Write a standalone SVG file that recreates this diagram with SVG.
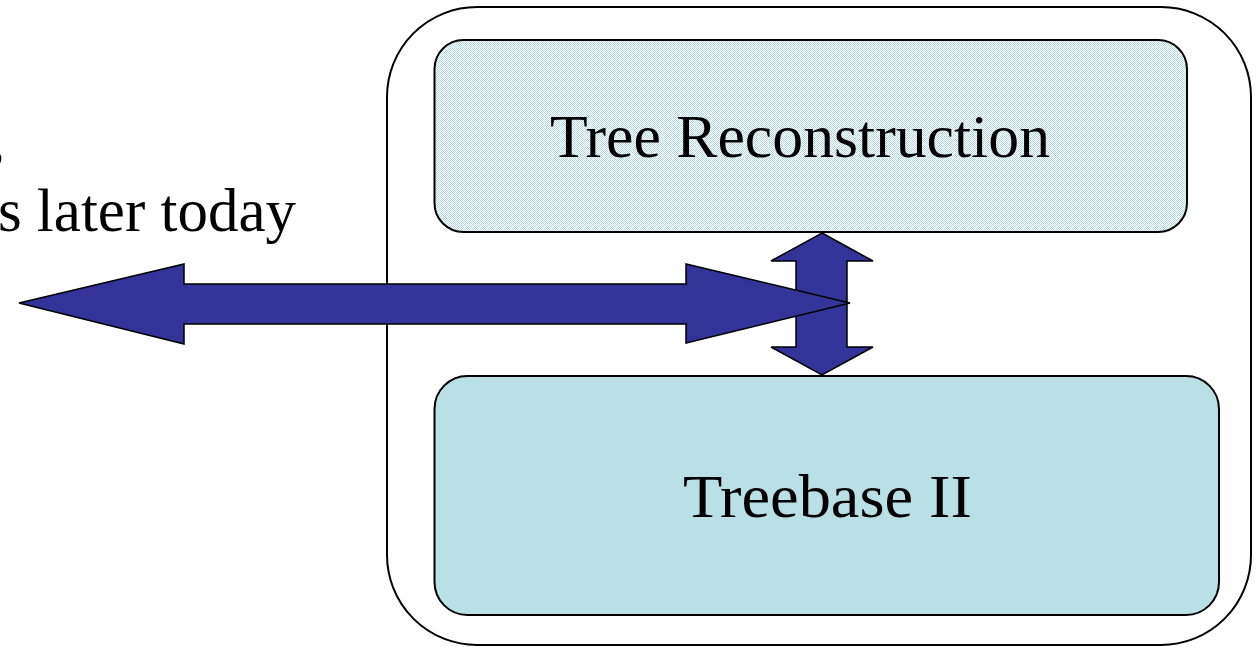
<svg xmlns="http://www.w3.org/2000/svg" width="1259" height="647" viewBox="0 0 1259 647">
  <style>
    .box { stroke: #000; stroke-width: 2; }
    .lbl { font-family: "Liberation Serif", "Times New Roman", serif; fill: #000; }
    .arrow { fill: #333399; stroke: #000; stroke-width: 1.5; stroke-linejoin: miter; }
  </style>
  <defs>
    <pattern id="dots" width="4" height="4" patternUnits="userSpaceOnUse">
      <rect width="4" height="4" fill="#ffffff"/>
      <rect x="0" y="0" width="1" height="1" fill="#a9d6da"/>
      <rect x="2" y="0" width="1" height="1" fill="#c6e5e8"/>
      <rect x="1" y="1" width="1" height="1" fill="#b4dde0"/>
      <rect x="3" y="1" width="1" height="1" fill="#b4dde0"/>
      <rect x="0" y="2" width="1" height="1" fill="#c6e5e8"/>
      <rect x="2" y="2" width="1" height="1" fill="#a9d6da"/>
      <rect x="1" y="3" width="1" height="1" fill="#b4dde0"/>
      <rect x="3" y="3" width="1" height="1" fill="#b4dde0"/>
    </pattern>
  </defs>
  <rect width="1259" height="647" fill="#ffffff"/>

  <g id="left-text">
    <text class="lbl" x="-10" y="159" font-size="61">,</text>
    <text class="lbl" x="296" y="231" font-size="61" text-anchor="end">s later today</text>
  </g>

  <g id="container">
    <rect class="box" x="387" y="7" width="864" height="638" rx="90" ry="90" fill="#ffffff"/>
  </g>

  <g id="tree-reconstruction">
    <rect class="box" x="434.5" y="40" width="752.5" height="192" rx="29" ry="29" fill="url(#dots)"/>
    <text class="lbl" x="800" y="157" font-size="62" text-anchor="middle" textLength="500" lengthAdjust="spacingAndGlyphs">Tree Reconstruction</text>
  </g>

  <g id="treebase">
    <rect class="box" x="434.5" y="376" width="784.5" height="239" rx="33" ry="33" fill="#b9e0e4"/>
    <text class="lbl" x="827.5" y="517" font-size="62" text-anchor="middle" textLength="289" lengthAdjust="spacingAndGlyphs">Treebase II</text>
  </g>

  <g id="connectors">
    <polygon class="arrow" points="822,233 873,261 847,261 847,347 873,347 822,375 771,347 796,347 796,261 771,261"/>
    <polygon class="arrow" points="19,303 184,264 184,284 686,284 686,264 850,303 686,343 686,324 184,324 184,344"/>
  </g>
</svg>
